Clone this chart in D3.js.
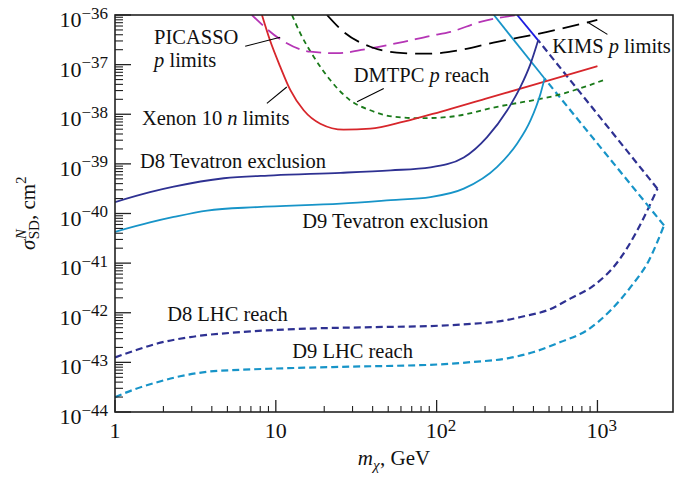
<!DOCTYPE html>
<html>
<head>
<meta charset="utf-8">
<script src="https://cdn.jsdelivr.net/npm/d3@7"></script>
<style>
  body { margin: 0; background: #fff; }
  svg { display: block; }
  svg text { font-family: "Liberation Serif", "Tinos", "Times New Roman", "DejaVu Serif", "Noto Serif", serif; fill: #111; }
</style>
</head>
<body>
<svg id="chart" width="674" height="477" font-family="Liberation Serif, Tinos, Times New Roman, DejaVu Serif, serif"></svg>
<script>
// Spin-dependent WIMP-nucleon cross-section vs WIMP mass.
// Each point: [mass in GeV, log10 of sigma in cm^2]

// Direct-detection limits / reach
const xenon10N = [[8.2,-36],[9.2,-36.51],[10.65,-37.04],[12.3,-37.51],[14.9,-37.92],[18.9,-38.19],[26.4,-38.31],[38.7,-38.29],[62.4,-38.15],[105.6,-37.95],[200,-37.69],[400,-37.41],[1000,-37.03]];
const picassoP = [[7.1,-36],[10.9,-36.51],[16.4,-36.74],[24.0,-36.77],[38.7,-36.67],[62.4,-36.54],[91.5,-36.42],[122,-36.34],[187,-36.14],[317,-36]];
const kimsP = [[20.8,-36],[26.4,-36.34],[38.7,-36.64],[62.4,-36.77],[91.5,-36.78],[122,-36.74],[238,-36.54],[488,-36.34],[998,-36.10]];
const dmtpcP = [[12.6,-36],[14.2,-36.37],[17.2,-36.84],[21.8,-37.31],[29.0,-37.72],[38.7,-37.92],[54.1,-38.05],[79.3,-38.08],[122,-38.05],[238,-37.85],[618,-37.58],[1097,-37.31]];

// Collider bounds for operators D8 and D9
const d8Tevatron = [[1,-39.77],[1.65,-39.57],[2.32,-39.46],[4.75,-39.29],[9.73,-39.23],[25.3,-39.18],[51.8,-39.13],[91.5,-39.07],[147.5,-38.87],[206,-38.46],[275,-37.92],[332,-37.45],[384,-36.98],[428,-36.51]];
const d8TevatronEdge = [[428,-36.51],[317,-36]];
const d9Tevatron = [[1,-40.37],[1.65,-40.18],[2.32,-40.07],[3.74,-39.94],[7.66,-39.87],[25.3,-39.80],[51.8,-39.73],[91.5,-39.67],[147.5,-39.50],[238,-39.06],[317,-38.59],[384,-38.12],[443,-37.58],[469,-37.28]];
const d9TevatronEdge = [[469,-37.28],[227,-36]];
const d8Lhc = [[1,-42.90],[1.33,-42.76],[1.83,-42.62],[2.94,-42.49],[6.03,-42.39],[15.7,-42.32],[40.8,-42.29],[105.6,-42.26],[170,-42.22],[250,-42.17],[349,-42.07],[488,-41.95],[681,-41.71],[950,-41.45],[1361,-40.94],[1729,-40.40],[2360,-39.50]];
const d8LhcEdge = [[2360,-39.50],[428,-36.51]];
const d9Lhc = [[1,-43.70],[1.33,-43.54],[1.83,-43.40],[2.54,-43.28],[3.74,-43.19],[6.0,-43.15],[9.73,-43.125],[25.3,-43.09],[105.6,-43.04],[170,-42.99],[275,-42.92],[402,-42.79],[589,-42.59],[865,-42.35],[1208,-41.95],[1610,-41.48],[2093,-40.94],[2594,-40.24]];
const d9LhcEdge = [[2594,-40.24],[469,-37.28]];

// Axis ticks
const xTickExps = [0, 1, 2, 3];
const yTickExps = [-36, -37, -38, -39, -40, -41, -42, -43, -44];

// Curve labels: anchor [mass, log10 sigma] of the text baseline start
const curveLabels = [
  { at: [1.75, -36.58], parts: [{ t: "PICASSO" }] },
  { at: [1.75, -37.05], parts: [{ t: "p", i: true }, { t: " limits" }] },
  { at: [1.47, -38.22], parts: [{ t: "Xenon 10 " }, { t: "n", i: true }, { t: " limits" }] },
  { at: [1.43, -39.09], parts: [{ t: "D8 Tevatron exclusion" }] },
  { at: [14.6, -40.30], parts: [{ t: "D9 Tevatron exclusion" }] },
  { at: [30.5, -37.35], parts: [{ t: "DMTPC " }, { t: "p", i: true }, { t: " reach" }] },
  { at: [524, -36.77], parts: [{ t: "KIMS " }, { t: "p", i: true }, { t: " limits" }] },
  { at: [2.11, -42.17], parts: [{ t: "D8 LHC reach" }] },
  { at: [12.65, -42.92], parts: [{ t: "D9 LHC reach" }] }
];
// Leader lines from labels to curves
const leaders = [
  [[6.45, -36.63], [10.65, -36.45]],
  [[8.8, -37.78], [11.7, -37.45]],
  [[32.0, -37.75], [46.9, -37.48]],
  [[865, -36.14], [1153, -36.39]]
];

const svg = d3.select("#chart");
const x = d3.scaleLog().domain([1, 2950]).range([115, 673]);
const y = d3.scaleLog().domain([1e-44, 1e-36]).range([412, 15]);
const px = d => x(d[0]);
const py = d => y(Math.pow(10, d[1]));

svg.append("defs").append("clipPath").attr("id", "plotClip")
  .append("rect").attr("x", 115).attr("y", 15).attr("width", 558).attr("height", 397);

const plot = svg.append("g").attr("clip-path", "url(#plotClip)");
const smooth = d3.line().x(px).y(py).curve(d3.curveMonotoneX);
const straight = d3.line().x(px).y(py);

function draw(data, gen, color, width, dash) {
  plot.append("path").attr("d", gen(data))
    .attr("fill", "none").attr("stroke", color).attr("stroke-width", width)
    .attr("stroke-dasharray", dash || null).attr("stroke-linejoin", "round");
}

const navy = "#2e3192", sky = "#1794c8";
draw(d8Lhc, smooth, navy, 2.2, "7,4");
draw(d8LhcEdge, straight, navy, 2.2, "7,4");
draw(d9Lhc, smooth, sky, 2.2, "7,4");
draw(d9LhcEdge, straight, sky, 2.2, "7,4");
draw(dmtpcP, smooth, "#1a7a1a", 1.8, "5,4");
draw(xenon10N, smooth, "#d7262b", 1.8);
draw(picassoP, smooth, "#b535b5", 1.8, "15,7");
draw(kimsP, smooth, "#000", 1.8, "17,8");
draw(d9Tevatron, smooth, sky, 1.8);
draw(d9TevatronEdge, straight, sky, 1.8);
draw(d8Tevatron, smooth, navy, 1.8);
draw(d8TevatronEdge, straight, "#1c1ce0", 1.8);

// leader lines
leaders.forEach(l => {
  svg.append("path").attr("d", straight(l)).attr("stroke", "#000").attr("stroke-width", 1.1).attr("fill", "none");
});

// curve labels
curveLabels.forEach(lb => {
  const t = svg.append("text").attr("x", px(lb.at)).attr("y", py(lb.at)).attr("font-size", 20.5);
  lb.parts.forEach(p => t.append("tspan").attr("font-style", p.i ? "italic" : null).text(p.t));
});

// frame
const axisColor = "#222";
svg.append("rect").attr("x", 115).attr("y", 15).attr("width", 558).attr("height", 397)
  .attr("fill", "none").attr("stroke", axisColor).attr("stroke-width", 1.6);

// y ticks (inside)
const yMinor = [];
yTickExps.forEach(e => { if (e > -44) for (let k = 2; k <= 9; k++) yMinor.push(k * Math.pow(10, e - 1)); });
yTickExps.forEach(e => {
  const yy = y(Math.pow(10, e));
  svg.append("line").attr("x1", 115).attr("x2", 131).attr("y1", yy).attr("y2", yy).attr("stroke", axisColor).attr("stroke-width", 1.3);
});
yMinor.forEach(v => {
  const yy = y(v);
  svg.append("line").attr("x1", 115).attr("x2", 123).attr("y1", yy).attr("y2", yy).attr("stroke", axisColor).attr("stroke-width", 1.1);
});

// x ticks (inside)
const xMinor = [];
xTickExps.forEach(e => { if (e < 3) for (let k = 2; k <= 9; k++) xMinor.push(k * Math.pow(10, e)); });
xTickExps.forEach(e => {
  const xx = x(Math.pow(10, e));
  svg.append("line").attr("x1", xx).attr("x2", xx).attr("y1", 412).attr("y2", 400).attr("stroke", axisColor).attr("stroke-width", 1.3);
});
xMinor.forEach(v => {
  const xx = x(v);
  svg.append("line").attr("x1", xx).attr("x2", xx).attr("y1", 412).attr("y2", 406).attr("stroke", axisColor).attr("stroke-width", 1.1);
});

// y tick labels: 10^e
const mainSize = 22, supSize = 17;
yTickExps.forEach(e => {
  const yy = y(Math.pow(10, e));
  const t = svg.append("text").attr("x", 108).attr("y", yy + 12).attr("text-anchor", "end").attr("font-size", mainSize);
  t.append("tspan").text("10");
  t.append("tspan").attr("font-size", supSize).attr("dy", -8.5).text("\u2212" + Math.abs(e));
});

// x tick labels
xTickExps.forEach(e => {
  const xx = x(Math.pow(10, e));
  const base = e === 0 ? "1" : "10";
  const t = svg.append("text").attr("x", xx).attr("y", 438).attr("text-anchor", "middle").attr("font-size", mainSize).text(base);
  if (e > 1) {
    const w = t.node().getComputedTextLength();
    svg.append("text").attr("x", xx + w / 2).attr("y", 431).attr("font-size", supSize).text(String(e));
  }
});

// x axis title: m_chi, GeV
(function () {
  const g = svg.append("g");
  const m = g.append("text").attr("x", 0).attr("y", 0).attr("font-size", 21).attr("font-style", "italic").text("m");
  let cx = m.node().getComputedTextLength();
  const chi = g.append("text").attr("x", cx).attr("y", 5).attr("font-size", 15).attr("font-style", "italic").text("\u03c7");
  cx += chi.node().getComputedTextLength() + 0.5;
  const rest = g.append("text").attr("x", cx).attr("y", 0).attr("font-size", 21).text(", GeV");
  cx += rest.node().getComputedTextLength();
  g.attr("transform", `translate(${394 - cx / 2},465)`);
})();

// y axis title: sigma^N_SD, cm^2
(function () {
  const g = svg.append("g");
  const s = g.append("text").attr("x", 0).attr("y", 0).attr("font-size", 21).attr("font-style", "italic").text("\u03c3");
  let cx = s.node().getComputedTextLength() + 0.5;
  const sup = g.append("text").attr("x", cx).attr("y", -9).attr("font-size", 15).attr("font-style", "italic").text("N");
  const sub = g.append("text").attr("x", cx).attr("y", 4).attr("font-size", 15).text("SD");
  cx += Math.max(sup.node().getComputedTextLength(), sub.node().getComputedTextLength());
  const cm = g.append("text").attr("x", cx).attr("y", 0).attr("font-size", 21).text(", cm");
  cx += cm.node().getComputedTextLength();
  g.append("text").attr("x", cx).attr("y", -9).attr("font-size", 15).text("2");
  cx += 8;
  g.attr("transform", `translate(35,${213 + cx / 2}) rotate(-90)`);
})();
</script>
</body>
</html>
